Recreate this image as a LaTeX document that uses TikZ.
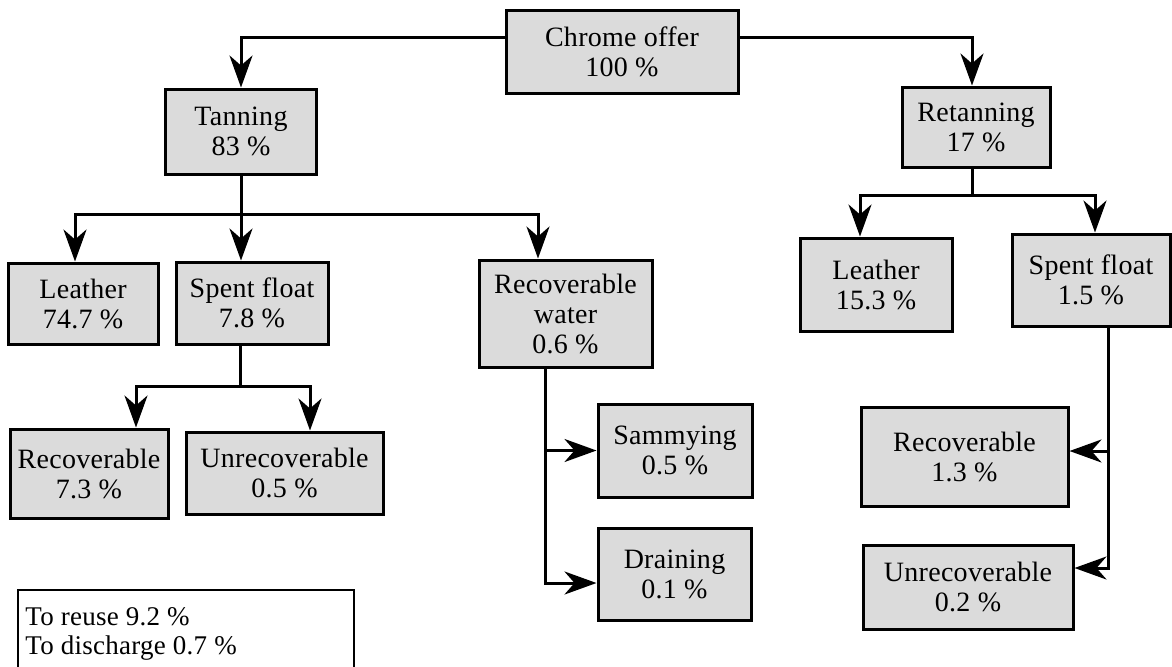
\documentclass[tikz,border=0pt]{standalone}
\usepackage{fontspec}
\setmainfont{Liberation Serif}[LetterSpace=1]
\usetikzlibrary{arrows.meta}

\begin{document}
\begin{tikzpicture}[x=0.5pt,y=-0.5pt,
  box/.style={draw,line width=1.5pt,fill=black!14,align=center,inner sep=0pt,font=\fontsize{14}{15}\selectfont},
  line/.style={line width=1.5pt},
  arr/.style={line width=1.5pt,-{Stealth[length=16pt,width=11.5pt,inset=5pt]}},
  legend/.style={align=left,inner sep=0pt,font=\fontsize{13.5}{14.5}\selectfont}]
\useasboundingbox (0,0) rectangle (1172,666);
\clip (0,0) rectangle (1172,666);

\node[box,minimum width=116pt,minimum height=41.5pt] (chrome) at (622,51.5) {Chrome offer\\100 \%};
\node[box,minimum width=75.5pt,minimum height=42.5pt] (tan) at (241,131.5) {Tanning\\83 \%};
\node[box,minimum width=74pt,minimum height=40pt] (retan) at (976,127) {Retanning\\17 \%};
\node[box,minimum width=75pt,minimum height=40.5pt] (leaA) at (83,303.5) {Leather\\74.7 \%};
\node[box,minimum width=76pt,minimum height=41pt] (spentA) at (252,303) {Spent float\\7.8 \%};
\node[box,minimum width=86.5pt,minimum height=53.5pt] (water) at (565.5,313.5) {Recoverable\\water\\0.6 \%};
\node[box,minimum width=79pt,minimum height=44.5pt] (recA) at (89,473.5) {Recoverable\\7.3 \%};
\node[box,minimum width=98.5pt,minimum height=41pt] (unrecA) at (284.5,473) {Unrecoverable\\0.5 \%};
\node[box,minimum width=77pt,minimum height=46.5pt] (samm) at (675,450.5) {Sammying\\0.5 \%};
\node[box,minimum width=76.5pt,minimum height=46pt] (drain) at (674.5,574) {Draining\\0.1 \%};
\node[box,minimum width=76pt,minimum height=46.5pt] (leaB) at (876,284.5) {Leather\\15.3 \%};
\node[box,minimum width=79pt,minimum height=46pt] (spentB) at (1091,280) {Spent float\\1.5 \%};
\node[box,minimum width=103.5pt,minimum height=49.5pt] (recB) at (964.5,456.5) {Recoverable\\1.3 \%};
\node[box,minimum width=105pt,minimum height=42pt] (unrecB) at (968,587) {Unrecoverable\\0.2 \%};

\draw[arr] ([yshift=7.25pt]chrome.west) -| (tan);
\draw[arr] ([yshift=7.25pt]chrome.east) -| ([xshift=-2pt]retan.north);

\draw[line] (tan.south) -- ++(0,39) coordinate (tj);
\draw[arr] (tj) -| ([xshift=-4pt]leaA.north);
\draw[arr] (tj) -- (tj |- spentA.north);
\draw[arr] (tj) -| ([xshift=-13.75pt]water.north);

\draw[line] ([xshift=-6pt]spentA.south) -- ++(0,41) coordinate (sj);
\draw[arr] (sj) -| ([xshift=23.5pt]recA.north);
\draw[arr] (sj) -| ([xshift=12.75pt]unrecA.north);

\draw[arr] ([xshift=-10.25pt]water.south) |- (samm.west);
\draw[arr] ([xshift=-10.25pt]water.south) |- ([yshift=-4.5pt]drain.west);

\draw[line] ([xshift=-2pt]retan.south) -- ++(0,27) coordinate (rj);
\draw[arr] (rj) -| ([xshift=-8pt]leaB.north);
\draw[arr] (rj) -| ([xshift=2pt]spentB.north);

\draw[arr] ([xshift=8.5pt]spentB.south) |- ([yshift=2.75pt]recB.east);
\draw[arr] ([xshift=8.5pt]spentB.south) |- ([yshift=9.5pt]unrecB.east);

\draw[line width=0.6pt] (18,700) |- (354,590) -- (354,700);
\node[legend,anchor=north west] (note) at (25,607) {To reuse 9.2 \%\\To discharge 0.7 \%};
\end{tikzpicture}
\end{document}
